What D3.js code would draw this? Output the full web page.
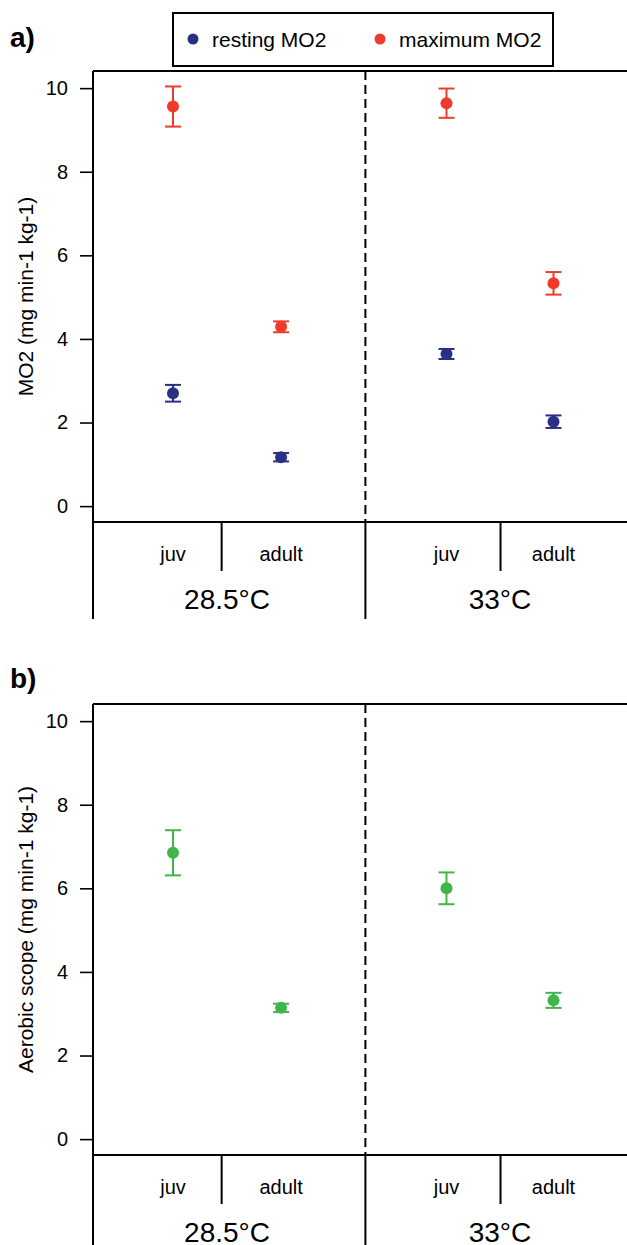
<!DOCTYPE html>
<html>
<head>
<meta charset="utf-8">
<script src="https://cdn.jsdelivr.net/npm/d3@7"></script>
<style>
  html, body { margin: 0; padding: 0; background: #fff; }
  svg { display: block; font-family: "Liberation Sans", Arial, Helvetica, sans-serif; }
</style>
</head>
<body>
<svg id="chart" width="627" height="1245"></svg>
<script>
// ---- data ----
const groups = ["juv", "adult", "juv", "adult"];
const temps = ["28.5°C", "33°C"];
const restMean = [2.70, 1.17, 3.64, 2.02];
const restErr  = [0.20, 0.10, 0.12, 0.15];
const maxMean  = [9.56, 4.29, 9.64, 5.33];
const maxErr   = [0.48, 0.13, 0.35, 0.27];
const scopeMean = [6.85, 3.14, 6.00, 3.32];
const scopeErr  = [0.54, 0.10, 0.38, 0.18];
const yTicks = [0, 2, 4, 6, 8, 10];
const legendLabels = ["resting MO2", "maximum MO2"];

const colors = { rest: "#2b3087", max: "#ef3b2c", scope: "#3fb64a" };

// ---- layout ----
const svg = d3.select("#chart");
const slot = [1, 2, 3.53, 4.52];          // x slots of the four groups
const x = d3.scaleLinear().domain([0.26, 5.2]).range([93, 627]);
const plotLeft = x(0.26), plotRight = x(5.2);
const divSub = [1.45, 4.03], divMid = 2.78;
const fs = 20;

function panel(offsetY, labelY, label, yTitle, series) {
  const y = d3.scaleLinear().domain([-0.38, 10.41]).range([offsetY + 522, offsetY + 71]);
  const g = svg.append("g");
  const top = y(10.41), bottom = y(-0.38);

  // panel label
  g.append("text").attr("x", 10).attr("y", labelY)
    .attr("font-size", 28).attr("font-weight", "bold").text(label);

  // y axis ticks
  const ax = g.append("g").attr("transform", `translate(${plotLeft},0)`)
    .call(d3.axisLeft(y).tickValues(yTicks).tickSize(13).tickPadding(12).tickFormat(d3.format("d")));
  ax.select(".domain").remove();
  ax.selectAll(".tick line").attr("stroke", "#000").attr("stroke-width", 1.6);
  ax.selectAll(".tick text").attr("font-size", fs).attr("fill", "#000")
    .attr("font-family", "Liberation Sans, Arial, sans-serif");

  // y title
  g.append("text")
    .attr("transform", `translate(33,${(top + bottom) / 2}) rotate(-90)`)
    .attr("text-anchor", "middle").attr("font-size", 21).text(yTitle);

  // frame: top, left, bottom
  const frame = g.append("g").attr("stroke", "#000").attr("stroke-width", 2).attr("fill", "none");
  frame.append("line").attr("x1", plotLeft).attr("x2", plotRight).attr("y1", top).attr("y2", top);
  frame.append("line").attr("x1", plotLeft).attr("x2", plotRight).attr("y1", bottom).attr("y2", bottom);
  frame.append("line").attr("x1", plotLeft).attr("x2", plotLeft).attr("y1", top).attr("y2", bottom + 97);
  // dashed mid line inside plot
  frame.append("line").attr("x1", x(divMid)).attr("x2", x(divMid)).attr("y1", top).attr("y2", bottom)
    .attr("stroke-dasharray", "9,5");
  // solid mid line below axis
  frame.append("line").attr("x1", x(divMid)).attr("x2", x(divMid)).attr("y1", bottom).attr("y2", bottom + 97);
  // sub dividers
  divSub.forEach(d => {
    frame.append("line").attr("x1", x(d)).attr("x2", x(d)).attr("y1", bottom).attr("y2", bottom + 49);
  });

  // group labels
  groups.forEach((gname, i) => {
    g.append("text").attr("x", x(slot[i])).attr("y", bottom + 39)
      .attr("text-anchor", "middle").attr("font-size", fs).text(gname);
  });
  temps.forEach((t, i) => {
    const cx = (x(slot[2 * i]) + x(slot[2 * i + 1])) / 2;
    g.append("text").attr("x", cx).attr("y", bottom + 87)
      .attr("text-anchor", "middle").attr("font-size", 28).text(t);
  });

  // series
  series.forEach(s => {
    const sg = g.append("g");
    s.mean.forEach((m, i) => {
      const cx = x(slot[i]);
      const y1 = y(m + s.err[i]), y0 = y(m - s.err[i]);
      sg.append("line").attr("x1", cx).attr("x2", cx).attr("y1", y1).attr("y2", y0)
        .attr("stroke", s.color).attr("stroke-width", 2);
      [y1, y0].forEach(yy => sg.append("line").attr("x1", cx - 8).attr("x2", cx + 8)
        .attr("y1", yy).attr("y2", yy).attr("stroke", s.color).attr("stroke-width", 2));
      sg.append("circle").attr("cx", cx).attr("cy", y(m)).attr("r", 6).attr("fill", s.color);
    });
  });
}

panel(0, 47, "a)", "MO2 (mg min-1 kg-1)", [
  { mean: restMean, err: restErr, color: colors.rest },
  { mean: maxMean, err: maxErr, color: colors.max }
]);
panel(633, 688, "b)", "Aerobic scope (mg min-1 kg-1)", [
  { mean: scopeMean, err: scopeErr, color: colors.scope }
]);

// legend
const lg = svg.append("g");
lg.append("rect").attr("x", 173).attr("y", 13).attr("width", 380).attr("height", 53)
  .attr("fill", "#fff").attr("stroke", "#000").attr("stroke-width", 2);
const legendColors = [colors.rest, colors.max];
const legendX = [193, 380];
legendLabels.forEach((l, i) => {
  lg.append("circle").attr("cx", legendX[i]).attr("cy", 39).attr("r", 5.5).attr("fill", legendColors[i]);
  lg.append("text").attr("x", legendX[i] + 19).attr("y", 47).attr("font-size", 21).text(l);
});
</script>
</body>
</html>
